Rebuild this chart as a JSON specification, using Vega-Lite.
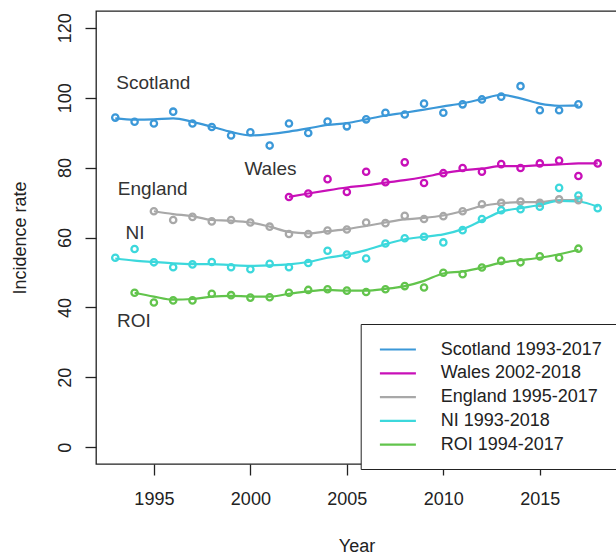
{
  "$schema": "https://vega.github.io/schema/vega-lite/v6.json",
  "width": 521,
  "height": 453,
  "autosize": "none",
  "padding": {"left": 96, "top": 11, "right": 0, "bottom": 91},
  "background": "white",
  "config": {
    "font": "Liberation Sans",
    "view": {"stroke": "#222", "strokeWidth": 1.3},
    "axis": {
      "grid": false,
      "domain": false,
      "tickColor": "#222",
      "tickSize": 11,
      "tickWidth": 1.3,
      "labelFont": "Liberation Sans",
      "labelFontSize": 18,
      "labelColor": "#222",
      "titleFont": "Liberation Sans",
      "titleFontSize": 18,
      "titleFontWeight": "normal",
      "titleColor": "#222"
    }
  },
  "datasets": {
    "series": [
      {"series": "Scotland 1993-2017", "year": 1993, "rate": 94.3, "fit": 94.1},
      {"series": "Scotland 1993-2017", "year": 1994, "rate": 93.1, "fit": 93.7},
      {"series": "Scotland 1993-2017", "year": 1995, "rate": 92.6, "fit": 93.8},
      {"series": "Scotland 1993-2017", "year": 1996, "rate": 96.0, "fit": 94.1},
      {"series": "Scotland 1993-2017", "year": 1997, "rate": 92.6, "fit": 93.1},
      {"series": "Scotland 1993-2017", "year": 1998, "rate": 91.6, "fit": 91.7},
      {"series": "Scotland 1993-2017", "year": 1999, "rate": 89.2, "fit": 90.2},
      {"series": "Scotland 1993-2017", "year": 2000, "rate": 90.1, "fit": 89.2},
      {"series": "Scotland 1993-2017", "year": 2001, "rate": 86.3, "fit": 89.6},
      {"series": "Scotland 1993-2017", "year": 2002, "rate": 92.6, "fit": 90.3},
      {"series": "Scotland 1993-2017", "year": 2003, "rate": 89.9, "fit": 91.2},
      {"series": "Scotland 1993-2017", "year": 2004, "rate": 93.2, "fit": 92.2},
      {"series": "Scotland 1993-2017", "year": 2005, "rate": 91.8, "fit": 92.7},
      {"series": "Scotland 1993-2017", "year": 2006, "rate": 93.8, "fit": 93.8},
      {"series": "Scotland 1993-2017", "year": 2007, "rate": 95.7, "fit": 94.9},
      {"series": "Scotland 1993-2017", "year": 2008, "rate": 95.2, "fit": 95.7},
      {"series": "Scotland 1993-2017", "year": 2009, "rate": 98.3, "fit": 96.6},
      {"series": "Scotland 1993-2017", "year": 2010, "rate": 95.7, "fit": 97.5},
      {"series": "Scotland 1993-2017", "year": 2011, "rate": 98.1, "fit": 98.4},
      {"series": "Scotland 1993-2017", "year": 2012, "rate": 99.5, "fit": 99.6},
      {"series": "Scotland 1993-2017", "year": 2013, "rate": 100.3, "fit": 100.8},
      {"series": "Scotland 1993-2017", "year": 2014, "rate": 103.3, "fit": 99.8},
      {"series": "Scotland 1993-2017", "year": 2015, "rate": 96.4, "fit": 98.3},
      {"series": "Scotland 1993-2017", "year": 2016, "rate": 96.4, "fit": 97.7},
      {"series": "Scotland 1993-2017", "year": 2017, "rate": 98.1, "fit": 97.8},

      {"series": "Wales 2002-2018", "year": 2002, "rate": 71.6, "fit": 71.6},
      {"series": "Wales 2002-2018", "year": 2003, "rate": 72.6, "fit": 72.6},
      {"series": "Wales 2002-2018", "year": 2004, "rate": 76.7, "fit": 73.5},
      {"series": "Wales 2002-2018", "year": 2005, "rate": 73.0, "fit": 74.3},
      {"series": "Wales 2002-2018", "year": 2006, "rate": 78.8, "fit": 74.9},
      {"series": "Wales 2002-2018", "year": 2007, "rate": 75.8, "fit": 75.7},
      {"series": "Wales 2002-2018", "year": 2008, "rate": 81.5, "fit": 76.4},
      {"series": "Wales 2002-2018", "year": 2009, "rate": 75.6, "fit": 77.3},
      {"series": "Wales 2002-2018", "year": 2010, "rate": 78.4, "fit": 78.4},
      {"series": "Wales 2002-2018", "year": 2011, "rate": 79.9, "fit": 79.2},
      {"series": "Wales 2002-2018", "year": 2012, "rate": 78.8, "fit": 79.7},
      {"series": "Wales 2002-2018", "year": 2013, "rate": 81.0, "fit": 80.4},
      {"series": "Wales 2002-2018", "year": 2014, "rate": 79.9, "fit": 80.4},
      {"series": "Wales 2002-2018", "year": 2015, "rate": 81.2, "fit": 80.7},
      {"series": "Wales 2002-2018", "year": 2016, "rate": 82.0, "fit": 80.9},
      {"series": "Wales 2002-2018", "year": 2017, "rate": 77.6, "fit": 81.2},
      {"series": "Wales 2002-2018", "year": 2018, "rate": 81.2, "fit": 81.2},

      {"series": "England 1995-2017", "year": 1995, "rate": 67.5, "fit": 67.5},
      {"series": "England 1995-2017", "year": 1996, "rate": 65.0, "fit": 66.7},
      {"series": "England 1995-2017", "year": 1997, "rate": 65.9, "fit": 66.1},
      {"series": "England 1995-2017", "year": 1998, "rate": 64.6, "fit": 65.0},
      {"series": "England 1995-2017", "year": 1999, "rate": 65.0, "fit": 64.8},
      {"series": "England 1995-2017", "year": 2000, "rate": 64.3, "fit": 64.3},
      {"series": "England 1995-2017", "year": 2001, "rate": 63.1, "fit": 63.1},
      {"series": "England 1995-2017", "year": 2002, "rate": 61.0, "fit": 61.6},
      {"series": "England 1995-2017", "year": 2003, "rate": 61.0, "fit": 61.2},
      {"series": "England 1995-2017", "year": 2004, "rate": 62.0, "fit": 61.8},
      {"series": "England 1995-2017", "year": 2005, "rate": 62.3, "fit": 62.4},
      {"series": "England 1995-2017", "year": 2006, "rate": 64.3, "fit": 63.3},
      {"series": "England 1995-2017", "year": 2007, "rate": 64.1, "fit": 64.3},
      {"series": "England 1995-2017", "year": 2008, "rate": 66.2, "fit": 65.2},
      {"series": "England 1995-2017", "year": 2009, "rate": 65.3, "fit": 65.6},
      {"series": "England 1995-2017", "year": 2010, "rate": 66.1, "fit": 66.3},
      {"series": "England 1995-2017", "year": 2011, "rate": 67.5, "fit": 67.5},
      {"series": "England 1995-2017", "year": 2012, "rate": 69.5, "fit": 69.0},
      {"series": "England 1995-2017", "year": 2013, "rate": 69.9, "fit": 69.8},
      {"series": "England 1995-2017", "year": 2014, "rate": 70.3, "fit": 70.1},
      {"series": "England 1995-2017", "year": 2015, "rate": 69.9, "fit": 70.1},
      {"series": "England 1995-2017", "year": 2016, "rate": 70.9, "fit": 70.7},
      {"series": "England 1995-2017", "year": 2017, "rate": 70.7, "fit": 70.7},

      {"series": "NI 1993-2018", "year": 1993, "rate": 54.2, "fit": 54.0},
      {"series": "NI 1993-2018", "year": 1994, "rate": 56.7, "fit": 53.4},
      {"series": "NI 1993-2018", "year": 1995, "rate": 52.9, "fit": 53.0},
      {"series": "NI 1993-2018", "year": 1996, "rate": 51.5, "fit": 52.6},
      {"series": "NI 1993-2018", "year": 1997, "rate": 52.3, "fit": 52.4},
      {"series": "NI 1993-2018", "year": 1998, "rate": 53.0, "fit": 52.4},
      {"series": "NI 1993-2018", "year": 1999, "rate": 51.5, "fit": 52.1},
      {"series": "NI 1993-2018", "year": 2000, "rate": 50.9, "fit": 51.9},
      {"series": "NI 1993-2018", "year": 2001, "rate": 52.5, "fit": 52.0},
      {"series": "NI 1993-2018", "year": 2002, "rate": 51.5, "fit": 52.3},
      {"series": "NI 1993-2018", "year": 2003, "rate": 52.7, "fit": 53.0},
      {"series": "NI 1993-2018", "year": 2004, "rate": 56.2, "fit": 54.2},
      {"series": "NI 1993-2018", "year": 2005, "rate": 55.1, "fit": 55.1},
      {"series": "NI 1993-2018", "year": 2006, "rate": 54.0, "fit": 56.4},
      {"series": "NI 1993-2018", "year": 2007, "rate": 58.3, "fit": 58.1},
      {"series": "NI 1993-2018", "year": 2008, "rate": 59.8, "fit": 59.5},
      {"series": "NI 1993-2018", "year": 2009, "rate": 60.2, "fit": 60.2},
      {"series": "NI 1993-2018", "year": 2010, "rate": 58.6, "fit": 60.9},
      {"series": "NI 1993-2018", "year": 2011, "rate": 62.1, "fit": 62.4},
      {"series": "NI 1993-2018", "year": 2012, "rate": 65.3, "fit": 64.9},
      {"series": "NI 1993-2018", "year": 2013, "rate": 67.8, "fit": 67.4},
      {"series": "NI 1993-2018", "year": 2014, "rate": 68.1, "fit": 68.4},
      {"series": "NI 1993-2018", "year": 2015, "rate": 68.8, "fit": 69.3},
      {"series": "NI 1993-2018", "year": 2016, "rate": 74.2, "fit": 70.5},
      {"series": "NI 1993-2018", "year": 2017, "rate": 72.0, "fit": 70.3},
      {"series": "NI 1993-2018", "year": 2018, "rate": 68.4, "fit": 68.8},

      {"series": "ROI 1994-2017", "year": 1994, "rate": 44.2, "fit": 44.2},
      {"series": "ROI 1994-2017", "year": 1995, "rate": 41.4, "fit": 43.1},
      {"series": "ROI 1994-2017", "year": 1996, "rate": 42.0, "fit": 42.2},
      {"series": "ROI 1994-2017", "year": 1997, "rate": 42.0, "fit": 42.4},
      {"series": "ROI 1994-2017", "year": 1998, "rate": 43.9, "fit": 43.1},
      {"series": "ROI 1994-2017", "year": 1999, "rate": 43.5, "fit": 43.3},
      {"series": "ROI 1994-2017", "year": 2000, "rate": 42.8, "fit": 43.1},
      {"series": "ROI 1994-2017", "year": 2001, "rate": 42.9, "fit": 43.1},
      {"series": "ROI 1994-2017", "year": 2002, "rate": 44.2, "fit": 43.9},
      {"series": "ROI 1994-2017", "year": 2003, "rate": 45.0, "fit": 44.6},
      {"series": "ROI 1994-2017", "year": 2004, "rate": 45.2, "fit": 45.0},
      {"series": "ROI 1994-2017", "year": 2005, "rate": 44.8, "fit": 44.8},
      {"series": "ROI 1994-2017", "year": 2006, "rate": 44.4, "fit": 44.8},
      {"series": "ROI 1994-2017", "year": 2007, "rate": 45.2, "fit": 45.3},
      {"series": "ROI 1994-2017", "year": 2008, "rate": 46.1, "fit": 46.1},
      {"series": "ROI 1994-2017", "year": 2009, "rate": 45.7, "fit": 47.6},
      {"series": "ROI 1994-2017", "year": 2010, "rate": 49.9, "fit": 49.7},
      {"series": "ROI 1994-2017", "year": 2011, "rate": 49.5, "fit": 50.3},
      {"series": "ROI 1994-2017", "year": 2012, "rate": 51.4, "fit": 51.4},
      {"series": "ROI 1994-2017", "year": 2013, "rate": 53.3, "fit": 52.8},
      {"series": "ROI 1994-2017", "year": 2014, "rate": 52.9, "fit": 53.5},
      {"series": "ROI 1994-2017", "year": 2015, "rate": 54.6, "fit": 54.2},
      {"series": "ROI 1994-2017", "year": 2016, "rate": 54.2, "fit": 55.2},
      {"series": "ROI 1994-2017", "year": 2017, "rate": 56.8, "fit": 56.5}
    ],
    "labels": [
      {"label": "Scotland", "year": 1994.97, "value": 104.1},
      {"label": "Wales", "year": 2001.04, "value": 79.5},
      {"label": "England", "year": 1994.94, "value": 73.8},
      {"label": "NI", "year": 1994.02, "value": 61.2},
      {"label": "ROI", "year": 1993.97, "value": 36.2}
    ]
  },
  "layer": [
    {
      "data": {"name": "series"},
      "mark": {"type": "line", "interpolate": "monotone", "strokeWidth": 2.2},
      "encoding": {
        "x": {
          "field": "year", "type": "quantitative",
          "scale": {"domain": [1992, 2019], "nice": false, "zero": false},
          "axis": {"values": [1995, 2000, 2005, 2010, 2015], "format": "d", "labelPadding": 15, "title": "Year", "titlePadding": 29}
        },
        "y": {
          "field": "fit", "type": "quantitative",
          "scale": {"domain": [-4.8, 124.8], "nice": false, "zero": false},
          "axis": {"values": [0, 20, 40, 60, 80, 100, 120], "labelAngle": -90, "labelAlign": "center", "labelBaseline": "bottom", "labelPadding": 11, "title": "Incidence rate", "titlePadding": 27}
        },
        "color": {
          "field": "series", "type": "nominal",
          "scale": {
            "domain": ["Scotland 1993-2017", "Wales 2002-2018", "England 1995-2017", "NI 1993-2018", "ROI 1994-2017"],
            "range": ["#3b98d8", "#c810b8", "#a8a8a8", "#3cd8dc", "#62c44c"]
          },
          "legend": {
            "orient": "none",
            "legendX": 264.7,
            "legendY": 313,
            "title": null,
            "symbolType": "M-0.7,0H3.3",
            "symbolSize": 324,
            "symbolStrokeWidth": 2.2,
            "labelFontSize": 18,
            "labelFont": "Liberation Sans",
            "labelColor": "#222",
            "labelOffset": 44,
            "labelLimit": 400,
            "labelExpr": "datum.label + '\u00a0\u00a0\u00a0'",
            "rowPadding": 3.8,
            "padding": 15,
            "strokeColor": "#222",
            "fillColor": "white"
          }
        }
      }
    },
    {
      "data": {"name": "series"},
      "mark": {"type": "point", "shape": "circle", "filled": false, "size": 40, "strokeWidth": 2.3, "opacity": 1},
      "encoding": {
        "x": {"field": "year", "type": "quantitative"},
        "y": {"field": "rate", "type": "quantitative"},
        "color": {"field": "series", "type": "nominal", "legend": null}
      }
    },
    {
      "data": {"name": "labels"},
      "mark": {"type": "text", "fontSize": 19, "font": "Liberation Sans", "color": "#333", "baseline": "middle", "align": "center"},
      "encoding": {
        "x": {"field": "year", "type": "quantitative"},
        "y": {"field": "value", "type": "quantitative"},
        "text": {"field": "label"}
      }
    }
  ]
}
